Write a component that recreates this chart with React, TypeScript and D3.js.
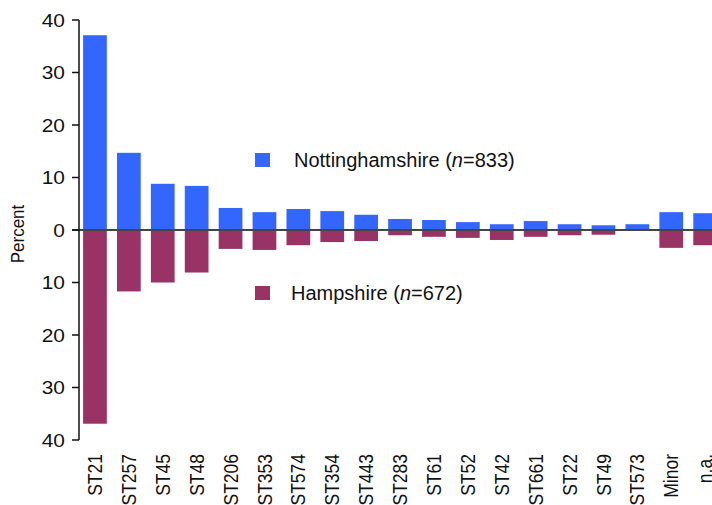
import * as d3 from 'd3';
import React from 'react';

const categories = [
  'ST21', 'ST257', 'ST45', 'ST48', 'ST206', 'ST353', 'ST574', 'ST354', 'ST443', 'ST283',
  'ST61', 'ST52', 'ST42', 'ST661', 'ST22', 'ST49', 'ST573', 'Minor', 'n.a.',
];
// percent of isolates, Nottinghamshire (drawn upwards)
const nottinghamshire = [37.1, 14.7, 8.8, 8.4, 4.2, 3.4, 4.0, 3.6, 2.9, 2.1, 1.9, 1.5, 1.1, 1.7, 1.1, 0.9, 1.1, 3.4, 3.2];
// percent of isolates, Hampshire (drawn downwards)
const hampshire = [36.9, 11.7, 10.0, 8.1, 3.6, 3.8, 2.9, 2.3, 2.1, 1.0, 1.3, 1.5, 1.9, 1.3, 1.0, 0.9, 0, 3.4, 2.9];
const yTicks = [-40, -30, -20, -10, 0, 10, 20, 30, 40];

const W = 712;
const H = 505;
const FONT = '"Liberation Sans", Arial, Helvetica, sans-serif';
const BLUE = '#3366ff';
const RED = '#993366';

export default function App() {
  const x = d3.scaleBand<string>()
    .domain(categories)
    .range([78, 78 + 19 * 33.9])
    .paddingInner(0.3)
    .paddingOuter(0.15);
  const y = d3.scaleLinear().domain([-40, 40]).range([440, 20]);
  const axisX = 79;

  return (
    <svg width={W} height={H} style={{ position: 'absolute', left: 0, top: 0, background: '#fff' }} fontFamily={FONT}>
      {/* bars */}
      {categories.map((c, i) => (
        <g key={c}>
          <rect x={x(c)} width={x.bandwidth()} y={y(nottinghamshire[i])} height={y(0) - y(nottinghamshire[i])} fill={BLUE} />
          <rect x={x(c)} width={x.bandwidth()} y={y(0)} height={y(-hampshire[i]) - y(0)} fill={RED} />
        </g>
      ))}

      {/* zero line */}
      <line x1={72} x2={W} y1={y(0)} y2={y(0)} stroke="#444" strokeWidth={2} />

      {/* y axis */}
      <line x1={axisX} x2={axisX} y1={y(40)} y2={y(-40)} stroke="#111" strokeWidth={1.5} />
      {yTicks.map((t) => (
        <g key={t}>
          <line x1={72} x2={axisX} y1={y(t)} y2={y(t)} stroke="#111" strokeWidth={1.5} />
          <text transform={`translate(65,${y(t)}) scale(1.1,1)`} dy="0.35em" textAnchor="end" fontSize={19} fill="#111">
            {Math.abs(t)}
          </text>
        </g>
      ))}
      <text transform={`translate(24,234) rotate(-90) scale(1,1.1)`} textAnchor="middle" fontSize={17} fill="#111">
        Percent
      </text>

      {/* x labels */}
      {categories.map((c) => (
        <text
          key={c}
          transform={`translate(${(x(c) ?? 0) + x.bandwidth() / 2},454) rotate(-90) scale(1,1.15)`}
          dy="0.35em"
          textAnchor="end"
          fontSize={17.5}
          fill="#111"
        >
          {c}
        </text>
      ))}

      {/* legend */}
      <rect x={255} y={153} width={15} height={14} fill={BLUE} />
      <text x={294} y={167} fontSize={20} fill="#111">
        Nottinghamshire (<tspan fontStyle="italic">n</tspan>=833)
      </text>
      <rect x={255} y={286} width={15} height={14} fill={RED} />
      <text x={291} y={300} fontSize={20} fill="#111">
        Hampshire (<tspan fontStyle="italic">n</tspan>=672)
      </text>
    </svg>
  );
}
